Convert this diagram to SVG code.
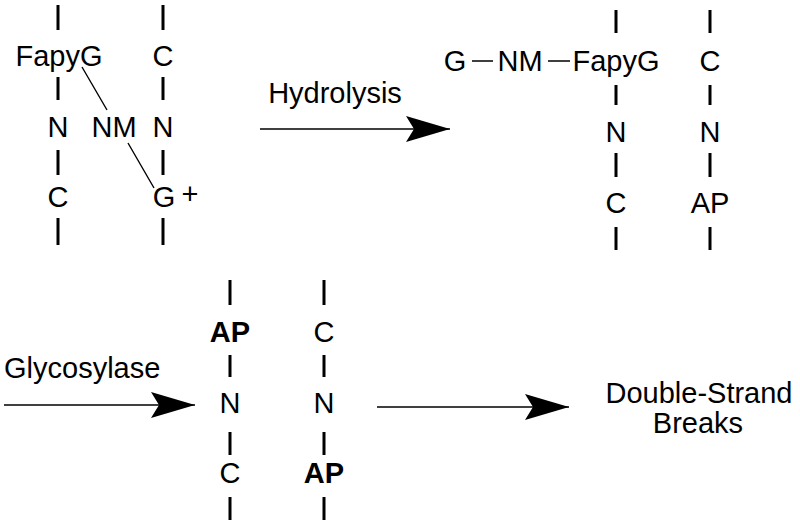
<svg xmlns="http://www.w3.org/2000/svg" width="800" height="528" viewBox="0 0 800 528">
<defs>
<style>
text{font-family:"Liberation Sans",Arial,sans-serif;font-size:29px;fill:#000;text-anchor:middle}
.b{font-weight:bold}
.l{text-anchor:start}
.t{stroke:#000;stroke-width:3;fill:none}
.bond{stroke:#000;stroke-width:1.4;fill:none}
.arr{stroke:#000;stroke-width:1.5;fill:none}
</style>
<marker id="ah" markerUnits="userSpaceOnUse" viewBox="0 0 44 26" refX="44" refY="13" markerWidth="44" markerHeight="26" orient="auto">
<path d="M0,0 L44,13 L0,26 L8,13 Z" fill="#000"/>
</marker>
</defs>
<rect width="800" height="528" fill="#fff"/>

<g id="complex1">
<g class="t">
<path d="M58,5V30M58,77V100M58,150V175M58,218V245"/>
<path d="M163,5V30M163,77V100M163,150V175M163,218V245"/>
</g>
<text x="59" y="66">FapyG</text>
<text x="58" y="137">N</text>
<text x="58" y="207">C</text>
<text x="163" y="66">C</text>
<text x="163" y="137">N</text>
<text x="164" y="207">G</text>
<text x="190" y="204">+</text>
<text x="114" y="137">NM</text>
<path class="bond" d="M82,67L107,110M128,143L154,188"/>
</g>

<g id="label-hydrolysis"><text x="335" y="103">Hydrolysis</text></g>

<g id="complex2">
<g class="t">
<path d="M616,10V33M616,85V105M616,153V177M616,227V250"/>
<path d="M710,10V33M710,85V105M710,153V177M710,227V250"/>
</g>
<text x="455" y="71">G</text>
<path class="bond" d="M472,61H493M548,61H570"/>
<text x="520" y="71">NM</text>
<text x="616" y="71">FapyG</text>
<text x="616" y="142">N</text>
<text x="616" y="213">C</text>
<text x="710" y="71">C</text>
<text x="710" y="142">N</text>
<text x="710" y="213">AP</text>
</g>

<g id="label-glycosylase"><text class="l" x="4" y="378">Glycosylase</text></g>

<g id="complex3">
<g class="t">
<path d="M230,280V305M230,355V377M230,432V455M230,497V520"/>
<path d="M324,280V305M324,355V377M324,432V455M324,497V520"/>
</g>
<text class="b" x="230" y="342">AP</text>
<text x="230" y="413">N</text>
<text x="230" y="483">C</text>
<text x="324" y="342">C</text>
<text x="324" y="413">N</text>
<text class="b" x="324" y="483">AP</text>
</g>

<g id="dsb">
<text x="699" y="403">Double-Strand</text>
<text x="698" y="433">Breaks</text>
</g>

<g id="connectors">
<path class="arr" d="M260,129H450" marker-end="url(#ah)"/>
<path class="arr" d="M4,405H195" marker-end="url(#ah)"/>
<path class="arr" d="M377,407H569" marker-end="url(#ah)"/>
</g>
</svg>
